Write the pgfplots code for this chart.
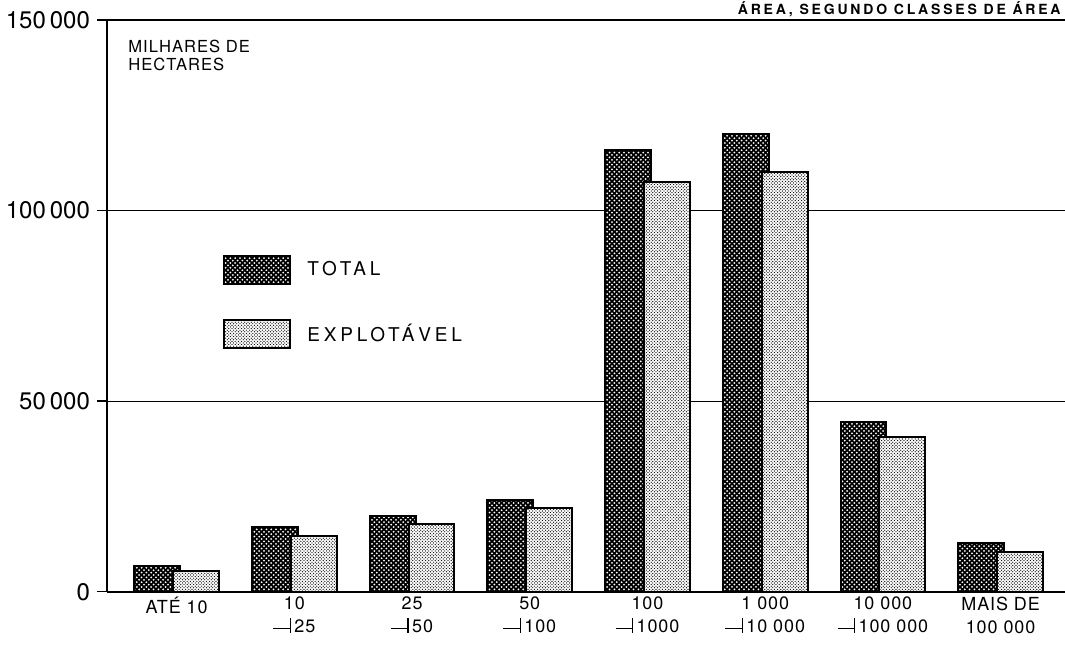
\documentclass[border=0pt]{standalone}
\usepackage{fontspec}
\setmainfont{TeX Gyre Heros}
\usepackage{pgfplots}
\usepackage{pgfplotstable}
\pgfplotsset{compat=1.18}
\usetikzlibrary{patterns}

% dark stipple: white dots on black; light stipple: fine black dots on white
\pgfdeclarepatternformonly{totaldots}{\pgfpoint{-0.6pt}{-0.6pt}}{\pgfpoint{1.8pt}{1.8pt}}{\pgfpoint{2.4pt}{2.4pt}}{%
  \pgfpathcircle{\pgfpoint{0pt}{0pt}}{0.5pt}%
  \pgfpathcircle{\pgfpoint{1.2pt}{1.2pt}}{0.5pt}%
  \pgfusepath{fill}}
\pgfdeclarepatternformonly{explodots}{\pgfpoint{-0.4pt}{-0.4pt}}{\pgfpoint{1.2pt}{1.2pt}}{\pgfpoint{1.6pt}{1.6pt}}{%
  \pgfpathcircle{\pgfpoint{0pt}{0pt}}{0.33pt}%
  \pgfpathcircle{\pgfpoint{0.8pt}{0.8pt}}{0.33pt}%
  \pgfusepath{fill}}

\tikzset{
  totalbar/.style={draw=black, line width=1pt, fill=black,
                   postaction={pattern=totaldots, pattern color=white}},
  explobar/.style={draw=black, line width=1pt, fill=white,
                   postaction={pattern=explodots, pattern color=black}},
}
\newcommand\intv{\raisebox{0.32ex}{\rule{0.9em}{0.6pt}}\rule[-0.05ex]{0.6pt}{1.55ex}\hspace{0.2em}}

% milhares de hectares
\pgfplotstableread{
x total explo
0 6800 5400
1 17100 14700
2 19900 17800
3 24100 22000
4 115800 107600
5 120000 110000
6 44600 40500
7 12700 10500
}\areadata

\begin{document}
\begin{tikzpicture}
\begin{axis}[
  scale only axis,
  width=479pt, height=285.85pt,
  xmin=-0.592, xmax=7.547,
  ymin=0, ymax=150000,
  clip=false,
  axis x line*=bottom, axis y line*=left,
  axis line style={line width=1pt, -},
  ytick={0,50000,100000,150000},
  yticklabels={0, 50\,000, 100\,000, 150\,000},
  scaled y ticks=false,
  ymajorgrids, grid style={black, line width=0.5pt},
  tick align=outside,
  major tick length=5pt,
  y tick style={black, line width=0.8pt},
  yticklabel style={font=\fontsize{12}{13}\selectfont},
  xtick={0,...,7},
  xtick style={draw=none},
  xticklabels={
    {ATÉ 10},
    {10\\\intv 25},
    {25\\\intv 50},
    {50\\\intv 100},
    {100\\\intv 1000},
    {1 000\\\intv 10 000},
    {10 000\\\intv 100 000},
    {MAIS DE\\100 000}},
  xticklabel style={align=center, anchor=north, yshift=6pt,
    font=\fontsize{9}{11.5}\selectfont\addfontfeature{LetterSpace=5}},
  legend style={at={(rel axis cs:0.1211,0.589)}, anchor=north west,
    draw=none, fill=none, inner sep=0pt,
    row sep=17pt, column sep=0pt,
    font=\fontsize{9.5}{10}\selectfont\addfontfeature{LetterSpace=20}},
  legend cell align=left,
]
\addplot[ybar, bar width=0.39, bar shift=-0.165, totalbar, forget plot]
  table[x=x, y=total] {\areadata};
\addplot[ybar, bar width=0.39, bar shift=0.165, explobar, forget plot]
  table[x=x, y=explo] {\areadata};

\addlegendimage{legend image code/.code={\draw[totalbar] (0pt,-7pt) rectangle (33pt,7pt);}}
\addlegendentry{\hspace{6pt}TOTAL}
\addlegendimage{legend image code/.code={\draw[explobar] (0pt,-7pt) rectangle (33pt,7pt);}}
\addlegendentry{\hspace{6pt}EXPLOTÁVEL}

\draw[line width=1pt] (rel axis cs:0,1) -- (rel axis cs:1,1);
\node[anchor=north west, align=left, inner sep=0pt,
  font=\fontsize{8.3}{9}\selectfont\addfontfeature{LetterSpace=6}]
  at ([xshift=10.5pt, yshift=-10pt]rel axis cs:0,1) {MILHARES DE\\HECTARES};
\node[anchor=base east, inner sep=0pt,
  font=\bfseries\fontsize{7}{8}\selectfont\addfontfeature{LetterSpace=20}]
  at ([xshift=-2pt, yshift=2.6pt]rel axis cs:1,1) {ÁREA, SEGUNDO CLASSES DE ÁREA};
\coordinate (sw) at (rel axis cs:0,0);
\coordinate (ne) at (rel axis cs:1,1);
\end{axis}
\pgfresetboundingbox
\path[use as bounding box] ([xshift=-53.5pt, yshift=-27.65pt]sw) rectangle ([yshift=10pt]ne);
\end{tikzpicture}
\end{document}
